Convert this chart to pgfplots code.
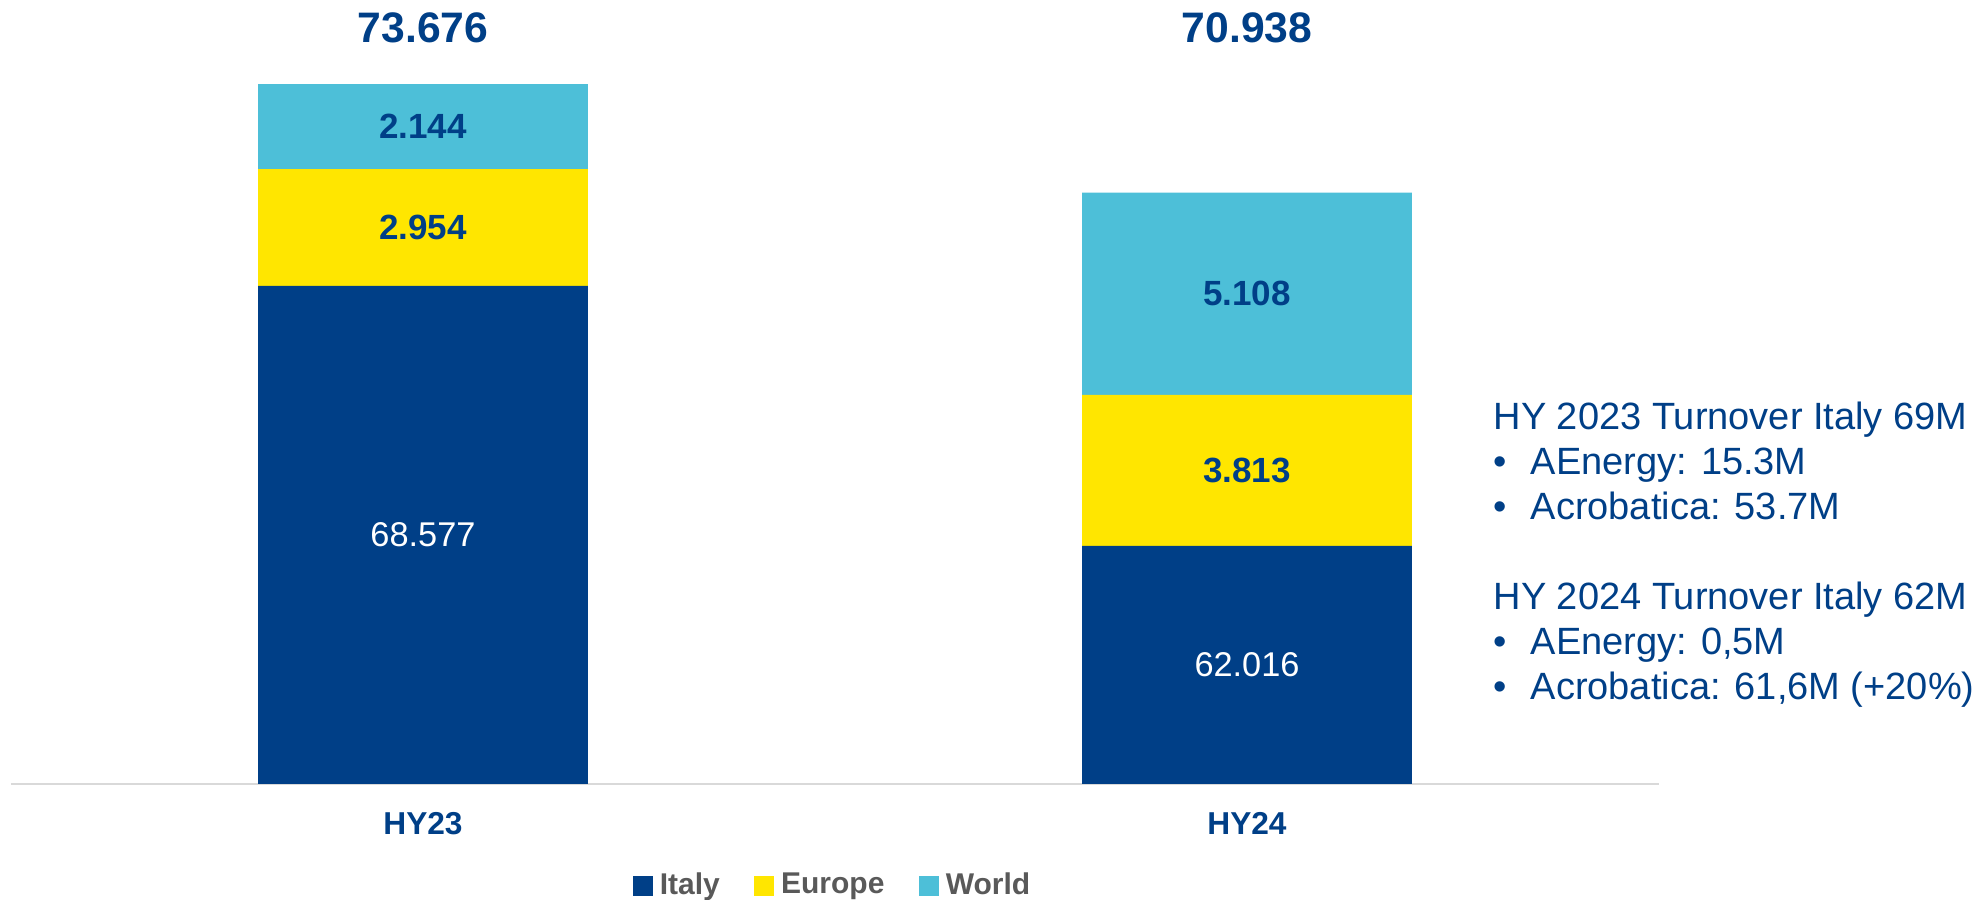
\documentclass[border=0pt]{standalone}
\usepackage{pgfplots}
\pgfplotsset{compat=1.18}
\usepackage{fontspec}
\setmainfont{Liberation Sans}
\definecolor{dblue}{HTML}{003F87}
\definecolor{yel}{HTML}{FFE600}
\definecolor{cyanw}{HTML}{4DBFD8}
\definecolor{axgray}{HTML}{D9D9D9}
\definecolor{leggray}{HTML}{595959}
\begin{document}
\begin{tikzpicture}
\useasboundingbox (-3.3pt,-34.8pt) rectangle (591.3pt,235.2pt);
\begin{axis}[
  at={(0,0)}, anchor=south west,
  scale only axis, width=494.4pt, height=235.2pt,
  ybar stacked, bar width=0.4,
  xmin=-0.5, xmax=1.5, ymin=56, ymax=75.8,
  xtick={0,1}, xticklabels={HY23,HY24},
  major tick length=0,
  hide y axis,
  axis x line*=bottom,
  x axis line style={draw=axgray, line width=0.7pt, -},
  xticklabel style={font=\fontsize{9.5}{10}\selectfont\bfseries, text=dblue, anchor=base, yshift=-15.3pt},
  point meta=explicit symbolic,
  nodes near coords,
  legend style={at={(0.5,-0.130)}, anchor=center, legend columns=3, draw=none, fill=none,
    font=\fontsize{9}{10}\selectfont\bfseries, text=leggray,
    /tikz/every even column/.append style={column sep=8.4pt}},
  legend image code/.code={\fill[#1] (0pt,-3pt) rectangle (6pt,3pt);},
]
% Italy is drawn from the axis break at 56: its label is lifted by 56/2 units (28 x 11.88pt)
\addplot[fill=dblue, draw=none,
  every node near coord/.style={font=\fontsize{10.3}{11}\selectfont, text=white, anchor=center,
    yshift=332.64pt}]
  table[x=x, y=y, meta=lab] {
x y lab
0 68.577 68.577
1 62.016 62.016
};
\addplot[fill=yel, draw=none,
  every node near coord/.style={font=\fontsize{10.5}{11}\selectfont\bfseries, text=dblue, anchor=center}]
  table[x=x, y=y, meta=lab] {
x y lab
0 2.954 2.954
1 3.813 3.813
};
\addplot[fill=cyanw, draw=none,
  every node near coord/.style={font=\fontsize{10.5}{11}\selectfont\bfseries, text=dblue, anchor=center}]
  table[x=x, y=y, meta=lab] {
x y lab
0 2.144 2.144
1 5.108 5.108
};
\legend{Italy, Europe, World}
\node[font=\fontsize{12.8}{14}\selectfont\bfseries, text=dblue, anchor=center] at (axis cs:0,75.09) {73.676};
\node[font=\fontsize{12.8}{14}\selectfont\bfseries, text=dblue, anchor=center] at (axis cs:1,75.09) {70.938};
\end{axis}
\begin{scope}[every node/.style={font=\fontsize{11.4}{13}\selectfont, text=dblue, anchor=base west, inner sep=0pt}]
\node at (444.6pt,106.2pt) {HY 2023 Turnover Italy 69M};
\node at (444.6pt,92.7pt) {•};
\node at (455.7pt,92.7pt) {AEnergy: 15.3M};
\node at (444.6pt,79.2pt) {•};
\node at (455.7pt,79.2pt) {Acrobatica: 53.7M};
\node at (444.6pt,52.2pt) {HY 2024 Turnover Italy 62M};
\node at (444.6pt,38.7pt) {•};
\node at (455.7pt,38.7pt) {AEnergy: 0,5M};
\node at (444.6pt,25.2pt) {•};
\node at (455.7pt,25.2pt) {Acrobatica: 61,6M (+20\%)};
\end{scope}
\end{tikzpicture}
\end{document}
